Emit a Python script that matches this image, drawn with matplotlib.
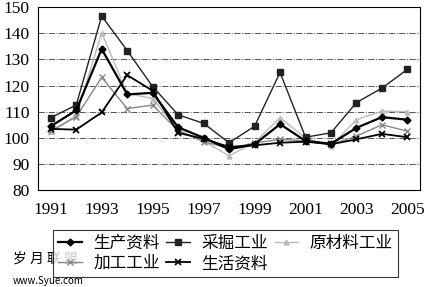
import matplotlib.pyplot as plt

plt.rcParams['font.family'] = ['Noto Sans CJK SC', 'DejaVu Sans']

years = list(range(1991, 2006))
tick_years = [1991, 1993, 1995, 1997, 1999, 2001, 2003, 2005]

# 生产资料
shengchan = [104.4, 110.5, 134.0, 116.6, 117.2, 104.0, 100.0, 95.6, 97.5, 105.2, 98.8, 97.7, 103.8, 107.9, 106.9]
# 采掘工业
caijue = [107.7, 112.5, 146.6, 133.4, 119.6, 108.8, 105.5, 98.1, 104.4, 125.0, 100.2, 101.9, 113.5, 119.0, 126.2]
# 原材料工业
yuancailiao = [102.5, 108.5, 140.2, 117.0, 115.0, 103.0, 98.7, 93.1, 98.1, 107.7, 99.9, 96.9, 106.9, 110.2, 110.0]
# 加工工业
jiagong = [102.5, 108.0, 123.1, 111.2, 112.5, 102.7, 98.5, 96.0, 98.0, 99.4, 98.8, 97.5, 100.6, 105.0, 102.5]
# 生活资料
shenghuo = [103.4, 103.1, 109.7, 124.0, 118.0, 101.9, 99.6, 96.5, 97.1, 98.1, 98.5, 97.5, 99.4, 101.5, 100.2]

fig = plt.figure(figsize=(4.27, 2.87), dpi=100)
ax = fig.add_axes([0.089, 0.338, 0.895, 0.637])

l1, = ax.plot(years, shengchan, color='black', lw=1.6, marker='D', ms=3.5, label='生产资料', zorder=5)
l2, = ax.plot(years, caijue, color='#222222', lw=1.0, marker='s', ms=4.5, label='采掘工业', zorder=4)
l3, = ax.plot(years, yuancailiao, color='#bbbbbb', lw=1.0, marker='^', ms=3.5, label='原材料工业', zorder=3)
l4, = ax.plot(years, jiagong, color='#888888', lw=1.0, marker='x', ms=4, label='加工工业', zorder=3)
l5, = ax.plot(years, shenghuo, color='black', lw=1.3, marker='x', ms=4, mew=1.3, label='生活资料', zorder=4)

ax.set_xlim(1990.5, 2005.5)
ax.set_ylim(80, 150)
ax.set_yticks(range(80, 151, 10))
ax.set_xticks(tick_years)
ax.set_xticklabels([str(y) for y in tick_years])
ax.tick_params(length=0, labelsize=12.5, labelfontfamily='Liberation Serif')
ax.tick_params(axis='x', pad=9)
ax.tick_params(axis='y', pad=6)
ax.grid(axis='y', color='#555555', lw=0.7, ls='-.')
for s in ax.spines.values():
    s.set_linewidth(0.8)
    s.set_linestyle((0, (2, 1)))

# column-major order so rows read 生产/采掘/原材料, 加工/生活
handles = [l1, l4, l2, l5, l3]
labels = [h.get_label() for h in handles]
leg = fig.legend(handles, labels, loc='upper left', bbox_to_anchor=(0.105, 0.228),
                 bbox_transform=fig.transFigure, ncol=3, fontsize=12,
                 frameon=True, fancybox=False, edgecolor='black', handlelength=1.4,
                 handletextpad=0.7, columnspacing=0.4, borderpad=0.3, labelspacing=0.2)
leg.get_frame().set_linewidth(0.8)

fig.text(0.03, 0.085, '岁 月 联 盟', fontsize=10, color='black')
fig.text(0.03, 0.01, 'www.Syue.com', fontsize=7, color='black')

fig.savefig('out.png', dpi=100)
